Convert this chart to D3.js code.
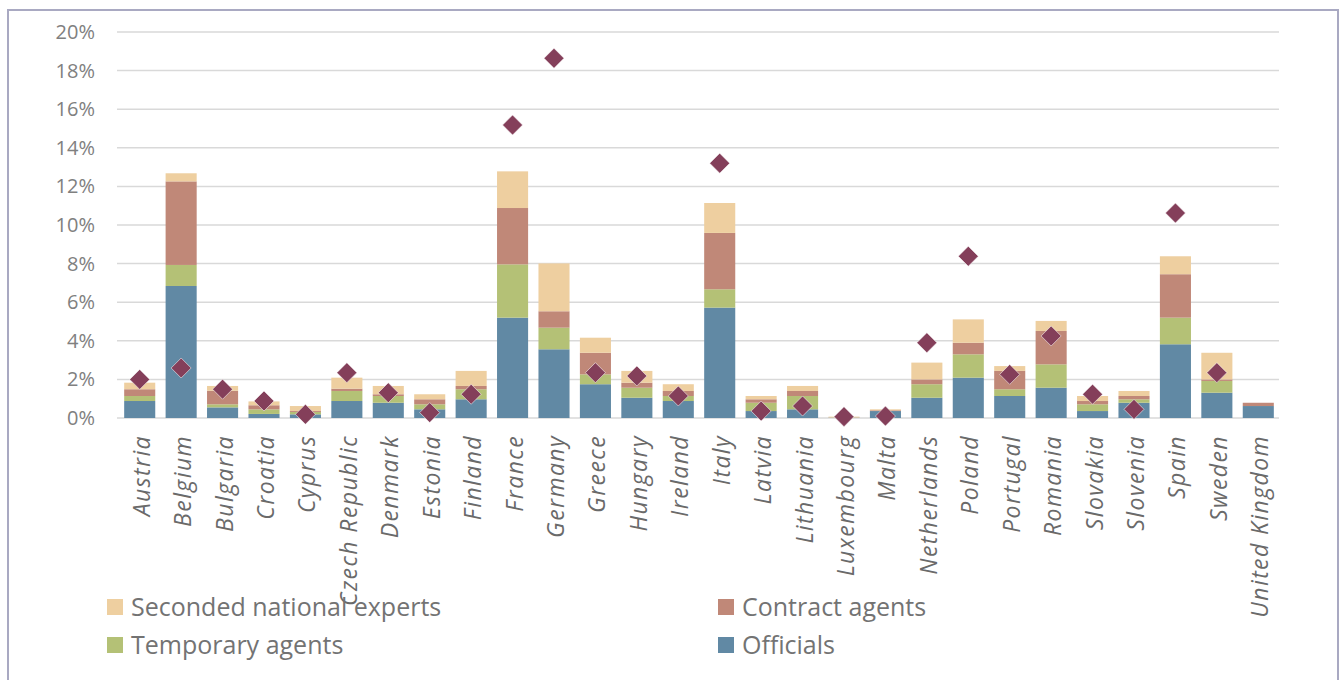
<!DOCTYPE html>
<html>
<head>
<meta charset="utf-8">
<script src="https://cdn.jsdelivr.net/npm/d3@7"></script>
<style>
  body { margin: 0; background: #fff; }
  svg { display: block; }
</style>
</head>
<body>
<svg></svg>
<script>
const countries = ["Austria", "Belgium", "Bulgaria", "Croatia", "Cyprus", "Czech Republic", "Denmark",
  "Estonia", "Finland", "France", "Germany", "Greece", "Hungary", "Ireland", "Italy", "Latvia",
  "Lithuania", "Luxembourg", "Malta", "Netherlands", "Poland", "Portugal", "Romania", "Slovakia",
  "Slovenia", "Spain", "Sweden", "United Kingdom"];
// percent of staff, per category (stacked bottom to top)
const officials = [0.88, 6.84, 0.55, 0.21, 0.19, 0.88, 0.79, 0.45, 0.97, 5.20, 3.56, 1.75, 1.05, 0.88,
  5.72, 0.36, 0.45, 0.02, 0.36, 1.05, 2.09, 1.14, 1.57, 0.36, 0.79, 3.82, 1.31, 0.62];
const temporary = [0.26, 1.09, 0.16, 0.24, 0.12, 0.52, 0.35, 0.26, 0.52, 2.76, 1.12, 0.51, 0.52, 0.26,
  0.95, 0.43, 0.69, 0.00, 0.00, 0.70, 1.21, 0.35, 1.21, 0.35, 0.18, 1.38, 0.61, 0.00];
const contract = [0.35, 4.33, 0.70, 0.21, 0.05, 0.12, 0.09, 0.26, 0.17, 2.92, 0.85, 1.12, 0.26, 0.26,
  2.92, 0.18, 0.26, 0.00, 0.04, 0.25, 0.60, 0.95, 1.73, 0.17, 0.17, 2.25, 0.08, 0.17];
const seconded = [0.34, 0.42, 0.25, 0.20, 0.26, 0.57, 0.43, 0.26, 0.78, 1.90, 2.48, 0.78, 0.61, 0.35,
  1.55, 0.17, 0.26, 0.05, 0.05, 0.87, 1.21, 0.25, 0.52, 0.26, 0.26, 0.93, 1.38, 0.00];
// population share markers (diamonds)
const population = [2.00, 2.59, 1.49, 0.88, 0.19, 2.35, 1.31, 0.28, 1.23, 15.18, 18.64, 2.35, 2.18, 1.14,
  13.20, 0.36, 0.62, 0.07, 0.10, 3.90, 8.38, 2.26, 4.25, 1.23, 0.45, 10.62, 2.35, null];
const yTicks = [0, 2, 4, 6, 8, 10, 12, 14, 16, 18, 20];

const seriesKeys = ["officials", "temporary", "contract", "seconded"];
const seriesNames = {
  officials: "Officials", temporary: "Temporary agents",
  contract: "Contract agents", seconded: "Seconded national experts"
};
const colors = {
  officials: "#6189a4", temporary: "#b4c176",
  contract: "#c08878", seconded: "#eecfa0"
};

const width = 1340;
const height = 680;
let svg = d3.select('svg')
  .attr('width', width)
  .attr('height', height);

// frame
svg.append('rect')
  .attr('x', 8).attr('y', 10)
  .attr('width', 1330).attr('height', 690)
  .attr('fill', 'none')
  .attr('stroke', '#a9a9c2')
  .attr('stroke-width', 2);

let rows = countries.map((c, i) => ({
  country: c,
  officials: officials[i],
  temporary: temporary[i],
  contract: contract[i],
  seconded: seconded[i],
  population: population[i]
}));

const x = d3.scaleBand()
  .domain(countries)
  .range([119, 1279])
  .paddingInner(0.25)
  .paddingOuter(0.125);

const y = d3.scaleLinear()
  .domain([0, 20])
  .range([418, 32]);

// gridlines
svg.append('g')
  .selectAll('line')
  .data(yTicks)
  .enter()
  .append('line')
    .attr('x1', 117).attr('x2', 1279)
    .attr('y1', d => y(d)).attr('y2', d => y(d))
    .attr('stroke', '#d9d9d9')
    .attr('stroke-width', 1.5);

// y axis labels
const yAxis = d3.axisLeft(y).tickValues(yTicks).tickSize(0).tickPadding(0)
  .tickFormat(d => d + '%');
svg.append('g')
  .attr('transform', 'translate(95,0)')
  .call(yAxis)
  .call(g => g.select('.domain').remove())
  .selectAll('text')
    .attr('font-family', "'Open Sans', sans-serif")
    .attr('font-size', 20)
    .attr('fill', '#808080');

// stacked bars
const stack = d3.stack().keys(seriesKeys);
const layers = stack(rows);
svg.append('g')
  .selectAll('g')
  .data(layers)
  .enter()
  .append('g')
    .attr('fill', d => colors[d.key])
  .selectAll('rect')
  .data(d => d)
  .enter()
  .append('rect')
    .attr('x', d => x(d.data.country))
    .attr('width', x.bandwidth())
    .attr('y', d => y(d[1]))
    .attr('height', d => y(d[0]) - y(d[1]));

// diamonds
svg.append('g')
  .selectAll('path')
  .data(rows.filter(d => d.population !== null))
  .enter()
  .append('path')
    .attr('d', d3.symbol(d3.symbolSquare, 200))
    .attr('transform', d => `translate(${x(d.country) + x.bandwidth() / 2},${y(d.population)}) rotate(45)`)
    .attr('fill', '#843f5a')
    .attr('stroke', '#fff')
    .attr('stroke-width', 0.5);

// x labels
svg.append('g')
  .selectAll('text')
  .data(countries)
  .enter()
  .append('text')
    .attr('transform', d => `translate(${x(d) + x.bandwidth() / 2 + 2},435) rotate(-90)`)
    .attr('text-anchor', 'end')
    .attr('dy', '0.35em')
    .attr('font-family', "'Open Sans', sans-serif")
    .attr('font-style', 'italic')
    .attr('font-size', 23)
    .attr('letter-spacing', 1.4)
    .attr('fill', '#6a6a6a')
    .text(d => d);

// legend
const legendItems = [
  {key: "seconded", x: 107, y: 607},
  {key: "contract", x: 718, y: 607},
  {key: "temporary", x: 107, y: 645},
  {key: "officials", x: 718, y: 645}
];
let legend = svg.append('g')
  .selectAll('g')
  .data(legendItems)
  .enter()
  .append('g')
    .attr('transform', d => `translate(${d.x},${d.y})`);
legend.append('rect')
  .attr('x', 0).attr('y', -8)
  .attr('width', 16).attr('height', 16)
  .attr('fill', d => colors[d.key]);
legend.append('text')
  .attr('x', 24)
  .attr('dy', '0.35em')
  .attr('font-family', "'Open Sans', sans-serif")
  .attr('font-size', 25)
  .attr('fill', '#737373')
  .text(d => seriesNames[d.key]);
</script>
</body>
</html>
